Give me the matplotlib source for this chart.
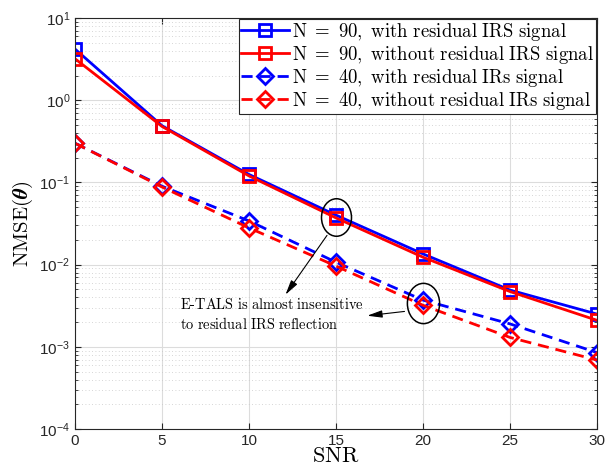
import numpy as np
import matplotlib
matplotlib.use("Agg")
import matplotlib.pyplot as plt
from matplotlib.ticker import FuncFormatter, LogLocator, NullFormatter
from matplotlib.path import Path
from matplotlib.transforms import Affine2D

plt.rcParams['mathtext.fontset'] = 'cm'
plt.rcParams['font.family'] = ['Liberation Sans', 'DejaVu Sans']

snr = [0, 5, 10, 15, 20, 25, 30]
n90_with = [4.2, 0.49, 0.125, 0.040, 0.0135, 0.0049, 0.0025]
n90_without = [3.2, 0.48, 0.120, 0.037, 0.0123, 0.0047, 0.0021]
n40_with = [0.30, 0.090, 0.034, 0.0107, 0.0037, 0.0019, 0.00085]
n40_without = [0.30, 0.088, 0.028, 0.0096, 0.0032, 0.0013, 0.00069]

labels = [r'$\mathrm{N}\ =\ \mathrm{90,\ with\ residual\ IRS\ signal}$',
          r'$\mathrm{N}\ =\ \mathrm{90,\ without\ residual\ IRS\ signal}$',
          r'$\mathrm{N}\ =\ \mathrm{40,\ with\ residual\ IRs\ signal}$',
          r'$\mathrm{N}\ =\ \mathrm{40,\ without\ residual\ IRs\ signal}$']

fig = plt.figure(figsize=(6.05, 4.76), dpi=100)
ax = fig.add_axes([0.124, 0.0987, 0.863, 0.8633])

ax.semilogy(snr, n90_with, '-s', color='#0000ff', lw=2, ms=9, mfc='none', mew=2, label=labels[0])
ax.semilogy(snr, n90_without, '-s', color='#ff0000', lw=2, ms=9, mfc='none', mew=2, label=labels[1])
ax.semilogy(snr, n40_with, '--D', color='#0000ff', lw=2, ms=8.5, mfc='none', mew=2,
            dashes=(4, 2.5), label=labels[2])
ax.semilogy(snr, n40_without, '--D', color='#ff0000', lw=2, ms=8.5, mfc='none', mew=2,
            dashes=(4, 2.5), label=labels[3])

ax.set_xlim(0, 30)
ax.set_ylim(1e-4, 1e1)
ax.set_xticks(snr)
ax.yaxis.set_major_locator(LogLocator(base=10, numticks=10))
ax.yaxis.set_minor_locator(LogLocator(base=10, subs=np.arange(2, 10), numticks=10))
ax.yaxis.set_major_formatter(FuncFormatter(lambda v, p: r'$\mathregular{10^{%d}}$' % round(np.log10(v))))
ax.yaxis.set_minor_formatter(NullFormatter())

ax.grid(True, which='major', color='#dcdcdc', lw=0.8, ls='-')
ax.grid(True, which='minor', axis='y', color='#c8c8c8', lw=0.6, ls=(0, (1, 3)))
ax.set_axisbelow(True)
ax.tick_params(which='both', direction='in', top=True, right=True, colors='#262626',
               labelsize=11)
ax.tick_params(which='major', length=4)
ax.tick_params(which='minor', length=2.5)
for s in ax.spines.values():
    s.set_color('#262626')
    s.set_linewidth(0.8)

ax.set_xlabel(r'$\mathrm{SNR}$', fontsize=16, labelpad=-1)
ax.set_ylabel(r'$\mathrm{NMSE}(\boldsymbol{\theta})$', fontsize=15, labelpad=3)

leg = ax.legend(loc='upper right', fontsize=13.5, fancybox=False, framealpha=1,
                edgecolor='#262626', borderaxespad=0.05, handlelength=2.6,
                handletextpad=0.15, borderpad=0.1, labelspacing=0.05)
leg.get_frame().set_linewidth(0.8)

# ellipses around the highlighted points
ell = Path.unit_circle().transformed(Affine2D().scale(0.8, 1.0))
y15 = np.sqrt(n90_with[3] * n90_without[3])
y20 = np.sqrt(n40_with[4] * n40_without[4])
ax.plot(15, y15, marker=ell, ms=27, mfc='none', mec='black', mew=1.1)
ax.plot(20, y20, marker=ell, ms=29, mfc='none', mec='black', mew=1.1)

arrow = dict(arrowstyle='-|>,head_width=0.22,head_length=0.9', color='black', lw=0.8)
ax.annotate('', xy=(12.0, 0.00404), xytext=(14.57, 0.0242), arrowprops=arrow)
ax.annotate('', xy=(16.63, 0.00237), xytext=(19.09, 0.00272), arrowprops=arrow)
ax.text(6.06, 0.00247, r'$\mathrm{E\text{-}TALS\ is\ almost\ insensitive}$' + '\n'
        + r'$\mathrm{to\ residual\ IRS\ reflection}$',
        fontsize=10.4, ha='left', va='center', linespacing=1.25)

fig.savefig('out.png', dpi=100)
